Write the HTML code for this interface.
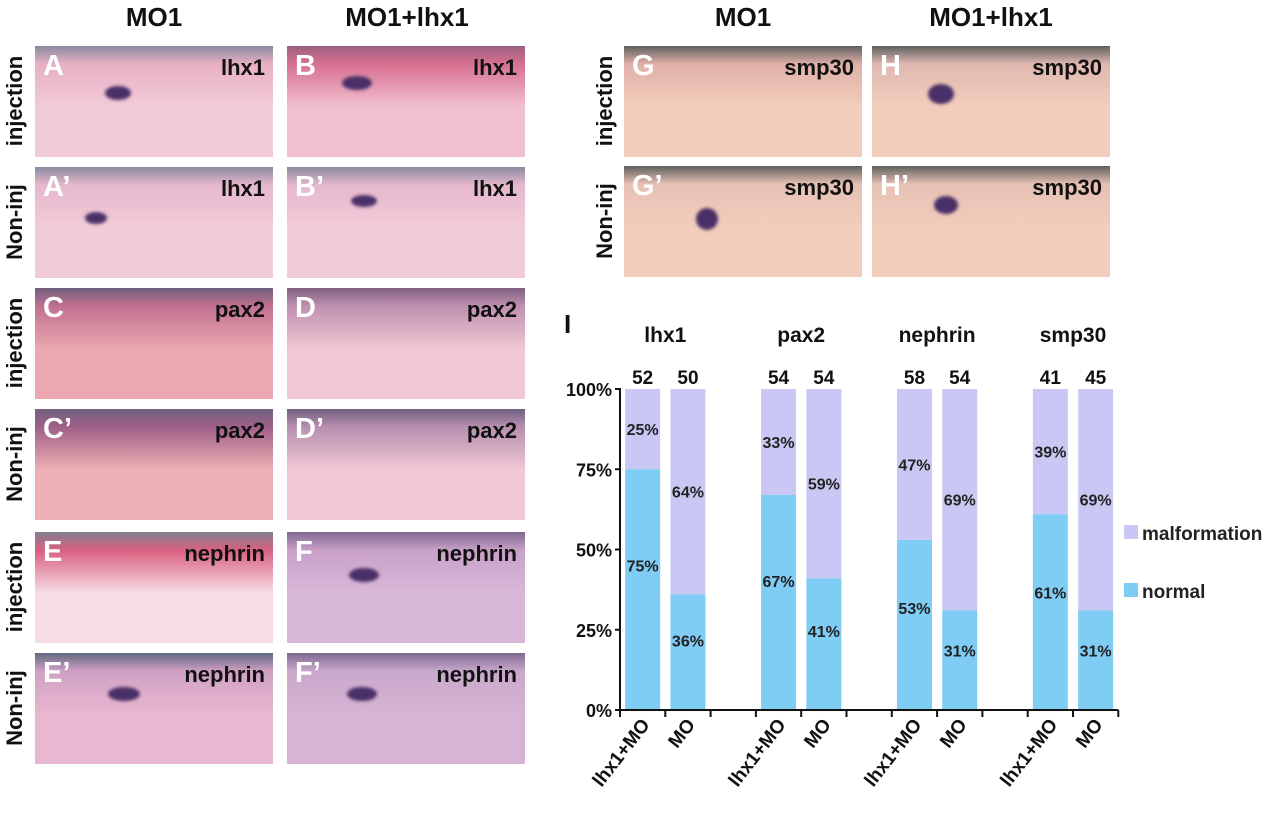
<!DOCTYPE html>
<html><head><meta charset="utf-8">
<style>
body{margin:0;background:#fff;width:1280px;height:818px;position:relative;overflow:hidden;font-family:"Liberation Sans",Arial,sans-serif}
.h{position:absolute;font-weight:bold;font-size:26px;color:#111;text-align:center;width:240px}
.p{position:absolute;overflow:hidden}
.p .l{position:absolute;left:8px;top:4px;color:#fff;font-weight:bold;font-size:29px}
.p .g{position:absolute;right:8px;top:9px;color:#111;font-weight:bold;font-size:22px}
.p .b{position:absolute;border-radius:50%;background:#4a3068;filter:blur(1.5px)}
.r{position:absolute;font-weight:bold;font-size:22px;color:#111;transform:rotate(-90deg);transform-origin:center;text-align:center;width:110px;height:26px}
</style></head><body>
<div class="h" style="left:34px;top:2px">MO1</div>
<div class="h" style="left:287px;top:2px">MO1+lhx1</div>
<div class="h" style="left:623px;top:2px">MO1</div>
<div class="h" style="left:871px;top:2px">MO1+lhx1</div>

<div class="r" style="left:-40px;top:88px">injection</div>
<div class="r" style="left:-40px;top:209px">Non-inj</div>
<div class="r" style="left:-40px;top:330px">injection</div>
<div class="r" style="left:-40px;top:451px">Non-inj</div>
<div class="r" style="left:-40px;top:574px">injection</div>
<div class="r" style="left:-40px;top:695px">Non-inj</div>
<div class="r" style="left:550px;top:88px">injection</div>
<div class="r" style="left:550px;top:208px">Non-inj</div>

<div id="panels"></div>

<svg id="chart" width="1280" height="818" style="position:absolute;left:0;top:0">
<text x="564" y="333" font-size="26" font-weight="bold" fill="#111">I</text>
</svg>

<script>
const panels=[
 ["A","lhx1",35,46,"#f2cbd9","#e8b0c4","#8a8aa0",[[70,40,26,14]]],
 ["B","lhx1",287,46,"#f0c0d0","#d87090","#9a6080",[[55,30,30,14]]],
 ["A’","lhx1",35,167,"#f2cbd9","#e6b8cc","#8a8aa0",[[50,45,22,12]]],
 ["B’","lhx1",287,167,"#f2cbd9","#e6b8cc","#8a8aa0",[[64,28,26,12]]],
 ["C","pax2",35,288,"#eca8b0","#c07090","#706080",[]],
 ["D","pax2",287,288,"#f0c8d4","#c090b0","#806080",[]],
 ["C’","pax2",35,409,"#eeb0b4","#a06088","#706080",[]],
 ["D’","pax2",287,409,"#f0c8d4","#b890b0","#706080",[]],
 ["E","nephrin",35,532,"#f6dce4","#d86080","#808090",[]],
 ["F","nephrin",287,532,"#d8b8d8","#c8a0c8","#806890",[[62,36,30,14]]],
 ["E’","nephrin",35,653,"#e8b8d0","#d0a0c4","#606880",[[73,34,32,14]]],
 ["F’","nephrin",287,653,"#d8b4d4","#c8a8cc","#806890",[[60,34,30,14]]],
 ["G","smp30",624,46,"#f2cdbc","#e0b0a8","#606060",[]],
 ["H","smp30",872,46,"#f2cdbc","#e0b8b0","#606060",[[56,38,26,20]]],
 ["G’","smp30",624,166,"#f2cdbc","#e6c0b4","#606060",[[72,42,22,22]]],
 ["H’","smp30",872,166,"#f2cdbc","#e6c0b4","#606060",[[62,30,24,18]]]
];
const pc=document.getElementById('panels');
panels.forEach(function(p){
 const d=document.createElement('div');
 d.className='p';
 
 
 d.style.left=p[2]+'px';d.style.top=p[3]+'px';
 d.style.width='238px';d.style.height='111px';
 d.style.background='linear-gradient(180deg,'+p[6]+' 0px,'+p[5]+' 18px,'+p[4]+' 55%,'+p[4]+' 100%)';
 let h='<span class="l">'+p[0]+'</span><span class="g">'+p[1]+'</span>';
 p[7].forEach(function(b){h+='<span class="b" style="left:'+b[0]+'px;top:'+b[1]+'px;width:'+b[2]+'px;height:'+b[3]+'px"></span>';});
 d.innerHTML=h;
 pc.appendChild(d);
});

// chart data
const categories=["lhx1","pax2","nephrin","smp30"];
const counts=[52,50,54,54,58,54,41,45];
const barLabels=["lhx1+MO","MO","lhx1+MO","MO","lhx1+MO","MO","lhx1+MO","MO"];
const normal=[75,36,67,41,53,31,61,31];
const malformation=[25,64,33,59,47,69,39,69];
const malfLabels=[25,64,33,59,47,69,39,69];
const yTicks=[0,25,50,75,100];

const svg=document.getElementById('chart');
const NS='http://www.w3.org/2000/svg';
const x0=620,slot=45.3,y0=710,y100=389;
function yS(v){return y0-(v/100)*(y0-y100);}
function slotOf(i){return Math.floor(i/2)*3+(i%2);}
function xS(i){return x0+slotOf(i)*slot+slot/2;}
function el(t,a,txt){const e=document.createElementNS(NS,t);for(const k in a)e.setAttribute(k,a[k]);if(txt!==undefined)e.textContent=txt;svg.appendChild(e);return e;}

normal.forEach(function(v,i){
 const cx=xS(i),w=35;
 const m=el('rect',{x:cx-w/2,y:yS(100),width:w,height:yS(100-malformation[i])-yS(100)+0.01,fill:'#c9c8f4'});
 
 
 const n=el('rect',{x:cx-w/2,y:yS(v),width:w,height:y0-yS(v),fill:'#7fccf5'});
 
 
 const t1=el('text',{x:cx,y:yS(v*0.6)+6,'text-anchor':'middle','font-size':16,'font-weight':'bold',fill:'#222'},v+'%');
 
 
 const t2=el('text',{x:cx,y:yS(100-malformation[i]/2)+6,'text-anchor':'middle','font-size':16,'font-weight':'bold',fill:'#222'},malfLabels[i]+'%');
 
 
 const c=el('text',{x:cx,y:384,'text-anchor':'middle','font-size':19,'font-weight':'bold',fill:'#111'},counts[i]);
 
 
 const xl=el('text',{x:0,y:0,'text-anchor':'end','font-size':19,'font-weight':'bold',fill:'#111',transform:'translate('+(cx+8)+',725) rotate(-52)'},barLabels[i]);
 
 
});
categories.forEach(function(c,g){
 const cx=(xS(g*2)+xS(g*2+1))/2;
 const t=el('text',{x:cx,y:342,'text-anchor':'middle','font-size':21,'font-weight':'bold',fill:'#111'},c);
 
 
});
const ax=el('path',{d:'M'+(x0-5)+' '+y100+'H'+x0+'V'+y0+'H'+(x0+11*slot),stroke:'#111','stroke-width':2,fill:'none'});


yTicks.forEach(function(v){
 const tk=el('line',{x1:x0-5,x2:x0,y1:yS(v),y2:yS(v),stroke:'#111','stroke-width':2});
 
 
 const t=el('text',{x:612,y:yS(v)+7,'text-anchor':'end','font-size':18,'font-weight':'bold',fill:'#111'},v+'%');
 
 
});
for(let k=0;k<=11;k++){
 const tk=el('line',{x1:x0+k*slot,x2:x0+k*slot,y1:y0,y2:y0+7,stroke:'#111','stroke-width':2});
 
 
}
const lg1=el('rect',{x:1124,y:525,width:14,height:14,fill:'#c9c8f4'});


const lt1=el('text',{x:1142,y:540,'font-size':19,'font-weight':'bold',fill:'#222'},'malformation');


const lg2=el('rect',{x:1124,y:583,width:14,height:14,fill:'#7fccf5'});


const lt2=el('text',{x:1142,y:598,'font-size':19,'font-weight':'bold',fill:'#222'},'normal');


</script>
</body></html>
